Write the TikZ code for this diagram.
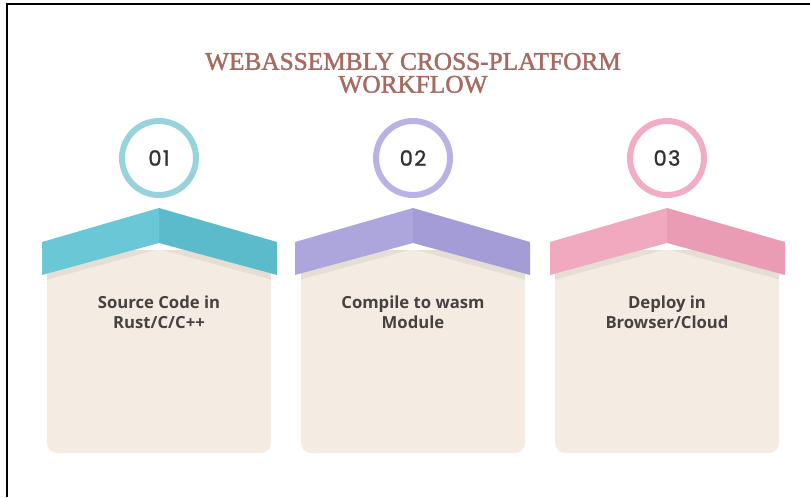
\documentclass[tikz,border=0pt]{standalone}
\usepackage{fontspec}
\setmainfont{Liberation Serif}
\setsansfont{Open Sans}
\newfontfamily\numfont[LetterSpace=6, FakeBold=1.2]{Poppins}
\newfontfamily\titlefont[FakeBold=1.6]{Liberation Serif}
\usetikzlibrary{shadows}

\definecolor{titlerose}{RGB}{166,106,96}
\definecolor{cardbeige}{RGB}{244,236,227}
\definecolor{cardtext}{RGB}{70,66,66}
\definecolor{numtext}{RGB}{50,50,50}
\definecolor{tealleft}{RGB}{106,199,213}
\definecolor{tealright}{RGB}{92,187,203}
\definecolor{tealring}{RGB}{150,211,221}
\definecolor{lilacleft}{RGB}{172,166,221}
\definecolor{lilacright}{RGB}{163,156,214}
\definecolor{lilacring}{RGB}{186,178,228}
\definecolor{pinkleft}{RGB}{240,169,191}
\definecolor{pinkright}{RGB}{233,156,180}
\definecolor{pinkring}{RGB}{242,173,195}

\begin{document}
\begin{tikzpicture}[x=0.02cm, y=-0.02cm,
	stepcircle/.style={circle, fill=white, line width=0.12cm, minimum size=1.48cm, inner sep=0pt,
		text=numtext, font=\numfont\fontsize{12}{14}\selectfont,
		drop shadow={shadow xshift=0.5pt, shadow yshift=-1.5pt, opacity=0.12}},
	cardbody/.style={fill=cardbeige, rounded corners=0.2cm},
	roofshadow/.style={fill=black, opacity=0.06},
	cardlabel/.style={align=center, text=cardtext, font=\sffamily\bfseries\fontsize{9.5}{11.3}\selectfont},
	frameline/.style={line width=1.3pt, black}]
	
	\useasboundingbox (0,0) rectangle (810,497);
	
	%Frame
	\draw[frameline] (7,497) -- (7,4) -- (810,4);
	
	%Title
	\node (title) at (413,73) [align=center, text=titlerose, font=\titlefont\fontsize{14.4}{13}\selectfont]
	{WEBASSEMBLY CROSS-PLATFORM\\WORKFLOW};
	
	%First card
	\fill[cardbody] (47,250) rectangle (271,453);
	\begin{scope}
		\clip (47,250) rectangle (271,453);
		\fill[roofshadow] (42,275) -- (159,243) -- (277,275) -- (277,281) -- (159,249) -- (42,281) -- cycle;
	\end{scope}
	\fill[tealleft] (42,242) -- (159,208) -- (159,243) -- (42,275) -- cycle;
	\fill[tealright] (159,208) -- (277,242) -- (277,275) -- (159,243) -- cycle;
	\node (firstCircle) at (159,158) [stepcircle, draw=tealring]{01};
	\node (firstText) at (159,312) [cardlabel]{Source Code in\\Rust/C/C++};
	
	%Second card
	\fill[cardbody] (301,250) rectangle (525,453);
	\begin{scope}
		\clip (301,250) rectangle (525,453);
		\fill[roofshadow] (295,275) -- (413,243) -- (530,275) -- (530,281) -- (413,249) -- (295,281) -- cycle;
	\end{scope}
	\fill[lilacleft] (295,242) -- (413,208) -- (413,243) -- (295,275) -- cycle;
	\fill[lilacright] (413,208) -- (530,242) -- (530,275) -- (413,243) -- cycle;
	\node (secondCircle) at (413,158) [stepcircle, draw=lilacring]{02};
	\node (secondText) at (413,312) [cardlabel]{Compile to wasm\\Module};
	
	%Third card
	\fill[cardbody] (555,250) rectangle (779,453);
	\begin{scope}
		\clip (555,250) rectangle (779,453);
		\fill[roofshadow] (550,275) -- (667,243) -- (785,275) -- (785,281) -- (667,249) -- (550,281) -- cycle;
	\end{scope}
	\fill[pinkleft] (550,242) -- (667,208) -- (667,243) -- (550,275) -- cycle;
	\fill[pinkright] (667,208) -- (785,242) -- (785,275) -- (667,243) -- cycle;
	\node (thirdCircle) at (667,158) [stepcircle, draw=pinkring]{03};
	\node (thirdText) at (667,312) [cardlabel]{Deploy in\\Browser/Cloud};
	
\end{tikzpicture}
\end{document}
